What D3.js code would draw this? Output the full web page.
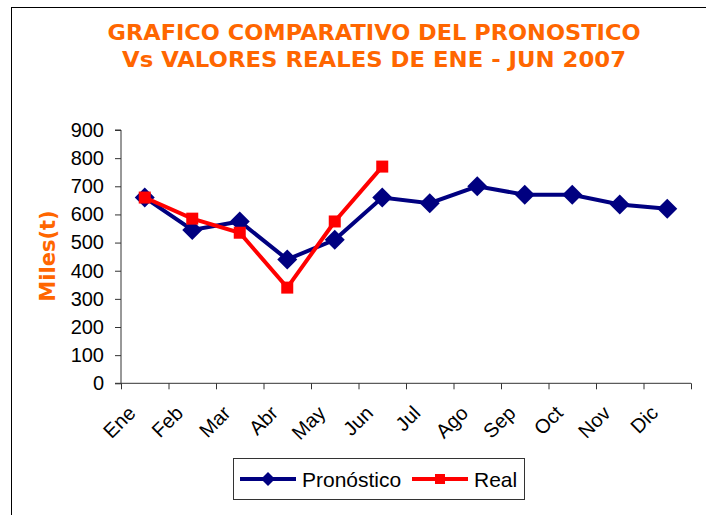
<!DOCTYPE html>
<html>
<head>
<meta charset="UTF-8">
<title>Pronostico vs Real</title>
<script src="https://cdn.jsdelivr.net/npm/d3@7"></script>
<style>
  body { margin: 0; background: #fff; }
  text { font-family: "Liberation Sans", Arial, sans-serif; }
  .title, .ylabel { font-family: "DejaVu Sans", Verdana, sans-serif; font-weight: bold; fill: #FF6600; }
</style>
</head>
<body>
<div id="chart"></div>
<script>
const months = ["Ene", "Feb", "Mar", "Abr", "May", "Jun", "Jul", "Ago", "Sep", "Oct", "Nov", "Dic"]
const pronostico = [660, 545, 575, 440, 510, 660, 640, 700, 670, 670, 635, 620]
const realMonths = ["Ene", "Feb", "Mar", "Abr", "May", "Jun"]
const real = [660, 585, 535, 340, 575, 770]
const yTicks = [0, 100, 200, 300, 400, 500, 600, 700, 800, 900]
const titleLines = ["GRAFICO COMPARATIVO DEL PRONOSTICO", "Vs VALORES REALES DE ENE - JUN 2007"]

const width = 706, height = 515
const plot = { left: 121, right: 691, top: 130, bottom: 383.3 }

const svg = d3.select("#chart")
  .append("svg")
  .attr("width", width)
  .attr("height", height)

// outer frame (runs off the right and bottom edge like the original)
svg.append("rect")
  .attr("x", 11.5).attr("y", 7.5)
  .attr("width", 720).attr("height", 540)
  .attr("fill", "none")
  .attr("stroke", "#000")
  .attr("stroke-width", 1)

// title
svg.selectAll(".title")
  .data(titleLines)
  .join("text")
  .attr("class", "title")
  .attr("x", 374)
  .attr("y", (d, i) => 40 + i * 26.7)
  .attr("text-anchor", "middle")
  .attr("font-size", 20.5)
  .attr("textLength", (d, i) => i === 0 ? 533 : 504)
  .attr("lengthAdjust", "spacingAndGlyphs")
  .text(d => d)

// scales
const x = d3.scaleBand()
  .domain(months)
  .range([plot.left, plot.right])

const xEdges = d3.scaleLinear()
  .domain([0, months.length])
  .range([plot.left, plot.right])

const y = d3.scaleLinear()
  .domain([0, 900])
  .range([plot.bottom, plot.top])

const cx = d => x(d) + x.bandwidth() / 2

// Y axis
const yAxis = svg.append("g")
  .attr("transform", "translate(" + plot.left + ",0)")
  .call(d3.axisLeft(y).tickValues(yTicks).tickSize(6).tickPadding(11))
yAxis.selectAll("path, line").attr("stroke", "#333")
yAxis.selectAll("text")
  .attr("font-size", 20)
  .attr("fill", "#000")
  .attr("font-family", "Liberation Sans, Arial, sans-serif")
yAxis.select(".domain").attr("d", "M-6," + plot.top + "H0V" + plot.bottom + "H-6")

// X axis: tick marks at category edges
const xAxis = svg.append("g")
  .attr("transform", "translate(0," + plot.bottom + ")")
  .call(d3.axisBottom(xEdges).tickValues(d3.range(months.length + 1)).tickSize(6).tickFormat(""))
xAxis.selectAll("path, line").attr("stroke", "#333")
xAxis.select(".domain").attr("d", "M" + plot.left + ",0H" + plot.right)

// X labels, rotated
svg.append("g")
  .selectAll("text")
  .data(months)
  .join("text")
  .attr("transform", d => "translate(" + (cx(d) - 8) + "," + (plot.bottom + 31) + ") rotate(-45)")
  .attr("text-anchor", "end")
  .attr("font-size", 20)
  .text(d => d)

// Y label
svg.append("text")
  .attr("class", "ylabel")
  .attr("transform", "translate(55,256) rotate(-90)")
  .attr("text-anchor", "middle")
  .attr("font-size", 21)
  .text("Miles(t)")

const line = d3.line()
  .x(d => cx(d[0]))
  .y(d => y(d[1]))

const pronData = months.map((m, i) => [m, pronostico[i]])
const realData = realMonths.map((m, i) => [m, real[i]])

// Pronostico series
svg.append("path")
  .datum(pronData)
  .attr("fill", "none")
  .attr("stroke", "#000080")
  .attr("stroke-width", 4)
  .attr("d", line)

svg.append("g")
  .selectAll("path")
  .data(pronData)
  .join("path")
  .attr("transform", d => "translate(" + cx(d[0]) + "," + y(d[1]) + ")")
  .attr("d", "M0,-10L10,0L0,10L-10,0Z")
  .attr("fill", "#000080")

// Real series
svg.append("path")
  .datum(realData)
  .attr("fill", "none")
  .attr("stroke", "#FF0000")
  .attr("stroke-width", 4)
  .attr("d", line)

svg.append("g")
  .selectAll("rect")
  .data(realData)
  .join("rect")
  .attr("x", d => cx(d[0]) - 6)
  .attr("y", d => y(d[1]) - 6)
  .attr("width", 12)
  .attr("height", 12)
  .attr("fill", "#FF0000")

// legend
const legend = svg.append("g")
legend.append("rect")
  .attr("x", 233.5).attr("y", 458.5)
  .attr("width", 291).attr("height", 41)
  .attr("fill", "#fff")
  .attr("stroke", "#333")

const items = [
  { name: "Pronóstico", color: "#000080", x0: 240, shape: "diamond" },
  { name: "Real", color: "#FF0000", x0: 412, shape: "square" }
]
items.forEach(it => {
  const ly = 479
  legend.append("line")
    .attr("x1", it.x0).attr("x2", it.x0 + 56)
    .attr("y1", ly).attr("y2", ly)
    .attr("stroke", it.color).attr("stroke-width", 4)
  if (it.shape === "diamond") {
    legend.append("path")
      .attr("transform", "translate(" + (it.x0 + 28) + "," + ly + ")")
      .attr("d", "M0,-7L7,0L0,7L-7,0Z")
      .attr("fill", it.color)
  } else {
    legend.append("rect")
      .attr("x", it.x0 + 23).attr("y", ly - 5)
      .attr("width", 10).attr("height", 10)
      .attr("fill", it.color)
  }
  legend.append("text")
    .attr("x", it.x0 + 62)
    .attr("y", ly + 7.5)
    .attr("font-size", 21)
    .text(it.name)
})
</script>
</body>
</html>
